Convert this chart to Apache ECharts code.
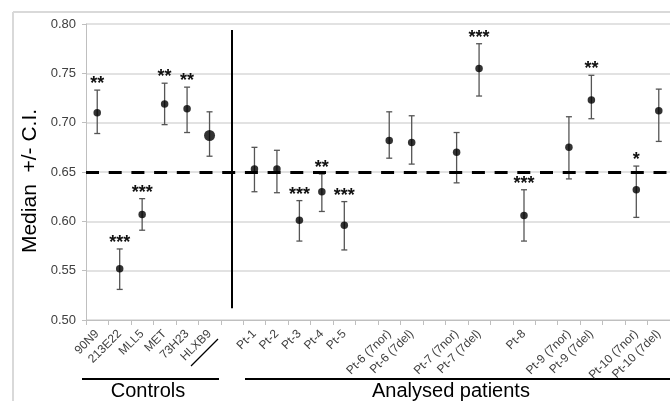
<!DOCTYPE html>
<html>
<head>
<meta charset="utf-8">
<script src="https://cdn.jsdelivr.net/npm/echarts@6/dist/echarts.min.js"></script>
<style>html,body{margin:0;padding:0;background:#fff;}#c{width:670px;height:401px;}</style>
</head>
<body>
<div id="c"></div>
<script>
var categories = ['90N9','213E22','MLL5','MET','73H23','HLXB9','',
  'Pt-1','Pt-2','Pt-3','Pt-4','Pt-5','',
  'Pt-6 (7nor)','Pt-6 (7del)','',
  'Pt-7 (7nor)','Pt-7 (7del)','',
  'Pt-8','',
  'Pt-9 (7nor)','Pt-9 (7del)','',
  'Pt-10 (7nor)','Pt-10 (7del)'];
var medians = [0.710,0.552,0.607,0.719,0.714,0.687,null,
  0.653,0.653,0.601,0.630,0.596,null,
  0.682,0.680,null,
  0.670,0.755,null,
  0.606,null,
  0.675,0.723,null,
  0.632,0.712];
var ciLow = [0.689,0.531,0.591,0.698,0.690,0.666,null,
  0.630,0.629,0.580,0.610,0.571,null,
  0.664,0.658,null,
  0.639,0.727,null,
  0.580,null,
  0.643,0.704,null,
  0.604,0.681];
var ciHigh = [0.733,0.572,0.623,0.740,0.736,0.711,null,
  0.675,0.672,0.621,0.648,0.620,null,
  0.711,0.707,null,
  0.690,0.780,null,
  0.632,null,
  0.706,0.748,null,
  0.656,0.734];
var stars = ['**','***','***','**','**','','',
  '','','***','**','***','',
  '','','',
  '','***','',
  '***','',
  '','**','',
  '*',''];
var yTicks = [0.50,0.55,0.60,0.65,0.70,0.75,0.80];
var threshold = 0.65;
var separatorIndex = 6;

var FONT = 'Liberation Sans';
var errData = [];
for (var i = 0; i < categories.length; i++) {
  if (medians[i] !== null) errData.push([i, ciLow[i], ciHigh[i], stars[i]]);
}
var ptData = [];
for (var j = 0; j < categories.length; j++) {
  if (medians[j] !== null) ptData.push({value: [j, medians[j]], symbolSize: categories[j] === 'HLXB9' ? 11 : 7.5});
}

var chart = echarts.init(document.getElementById('c'), null, {renderer: 'canvas'});
chart.setOption({
  animation: false,
  backgroundColor: '#fff',
  grid: {left: 86, top: 24, width: 590, height: 296, containLabel: false},
  xAxis: {
    type: 'category',
    data: categories,
    boundaryGap: true,
    axisLine: {lineStyle: {color: '#bfbfbf', width: 1}},
    axisTick: {show: true, length: 5, interval: 0, lineStyle: {color: '#bfbfbf'}},
    axisLabel: {interval: 0, rotate: 45, fontSize: 12, fontFamily: FONT, color: '#404040', margin: 12},
    splitLine: {show: false}
  },
  yAxis: {
    type: 'value',
    min: 0.5, max: 0.8, interval: 0.05,
    axisLine: {show: true, lineStyle: {color: '#bfbfbf', width: 1}},
    axisTick: {show: true, length: 4, lineStyle: {color: '#bfbfbf'}},
    axisLabel: {fontSize: 13, fontFamily: FONT, color: '#404040', margin: 10,
      formatter: function (v) { return v.toFixed(2); }},
    splitLine: {show: true, lineStyle: {color: '#d9d9d9', width: 1.5}}
  },
  series: [
    {
      type: 'custom',
      data: errData,
      z: 3,
      renderItem: function (params, api) {
        var x = api.value(0);
        var lo = api.coord([x, api.value(1)]);
        var hi = api.coord([x, api.value(2)]);
        var s = api.value(3);
        var cap = 3;
        var st = {stroke: '#555', lineWidth: 1.3};
        var children = [
          {type: 'line', shape: {x1: lo[0], y1: lo[1], x2: hi[0], y2: hi[1]}, style: st},
          {type: 'line', shape: {x1: lo[0] - cap, y1: lo[1], x2: lo[0] + cap, y2: lo[1]}, style: st},
          {type: 'line', shape: {x1: hi[0] - cap, y1: hi[1], x2: hi[0] + cap, y2: hi[1]}, style: st}
        ];
        if (s) {
          children.push({type: 'text', style: {text: s, x: hi[0], y: hi[1] + 3, align: 'center', verticalAlign: 'bottom',
            fontSize: 18, fontWeight: 'bold', fontFamily: FONT, fill: '#111'}});
        }
        return {type: 'group', children: children};
      }
    },
    {
      type: 'scatter',
      data: ptData,
      symbol: 'circle',
      z: 4,
      itemStyle: {color: '#000'},
      emphasis: {disabled: true},
      markLine: {
        silent: true,
        symbol: 'none',
        label: {show: false},
        data: [
          {yAxis: threshold, lineStyle: {color: '#000', width: 3, type: [13, 9.7]}},
          [{coord: [separatorIndex, 0.794], lineStyle: {color: '#000', width: 2, type: 'solid'}}, {coord: [separatorIndex, 0.512]}]
        ]
      }
    }
  ],
  graphic: [
    {type: 'line', shape: {x1: 13, y1: 12, x2: 670, y2: 12}, style: {stroke: '#d9d9d9', lineWidth: 2}, silent: true},
    {type: 'line', shape: {x1: 13, y1: 12, x2: 13, y2: 401}, style: {stroke: '#d9d9d9', lineWidth: 2}, silent: true},
    {type: 'text', x: 30, y: 181, rotation: Math.PI / 2, style: {text: 'Median  +/- C.I.', x: 0, y: 0, align: 'center', verticalAlign: 'middle', fontSize: 21, fontFamily: FONT, fill: '#000'}, silent: true},
    {type: 'line', shape: {x1: 191, y1: 366, x2: 218, y2: 339}, style: {stroke: '#000', lineWidth: 1.3}, silent: true},
    {type: 'line', shape: {x1: 82, y1: 379, x2: 219, y2: 379}, style: {stroke: '#000', lineWidth: 2}, silent: true},
    {type: 'line', shape: {x1: 245, y1: 379, x2: 670, y2: 379}, style: {stroke: '#000', lineWidth: 2}, silent: true},
    {type: 'text', style: {text: 'Controls', x: 148, y: 391, align: 'center', verticalAlign: 'middle', fontSize: 20, fontFamily: FONT, fill: '#000'}, silent: true},
    {type: 'text', style: {text: 'Analysed patients', x: 372, y: 391, align: 'left', verticalAlign: 'middle', fontSize: 20, fontFamily: FONT, fill: '#000'}, silent: true}
  ]
});
</script>
</body>
</html>
